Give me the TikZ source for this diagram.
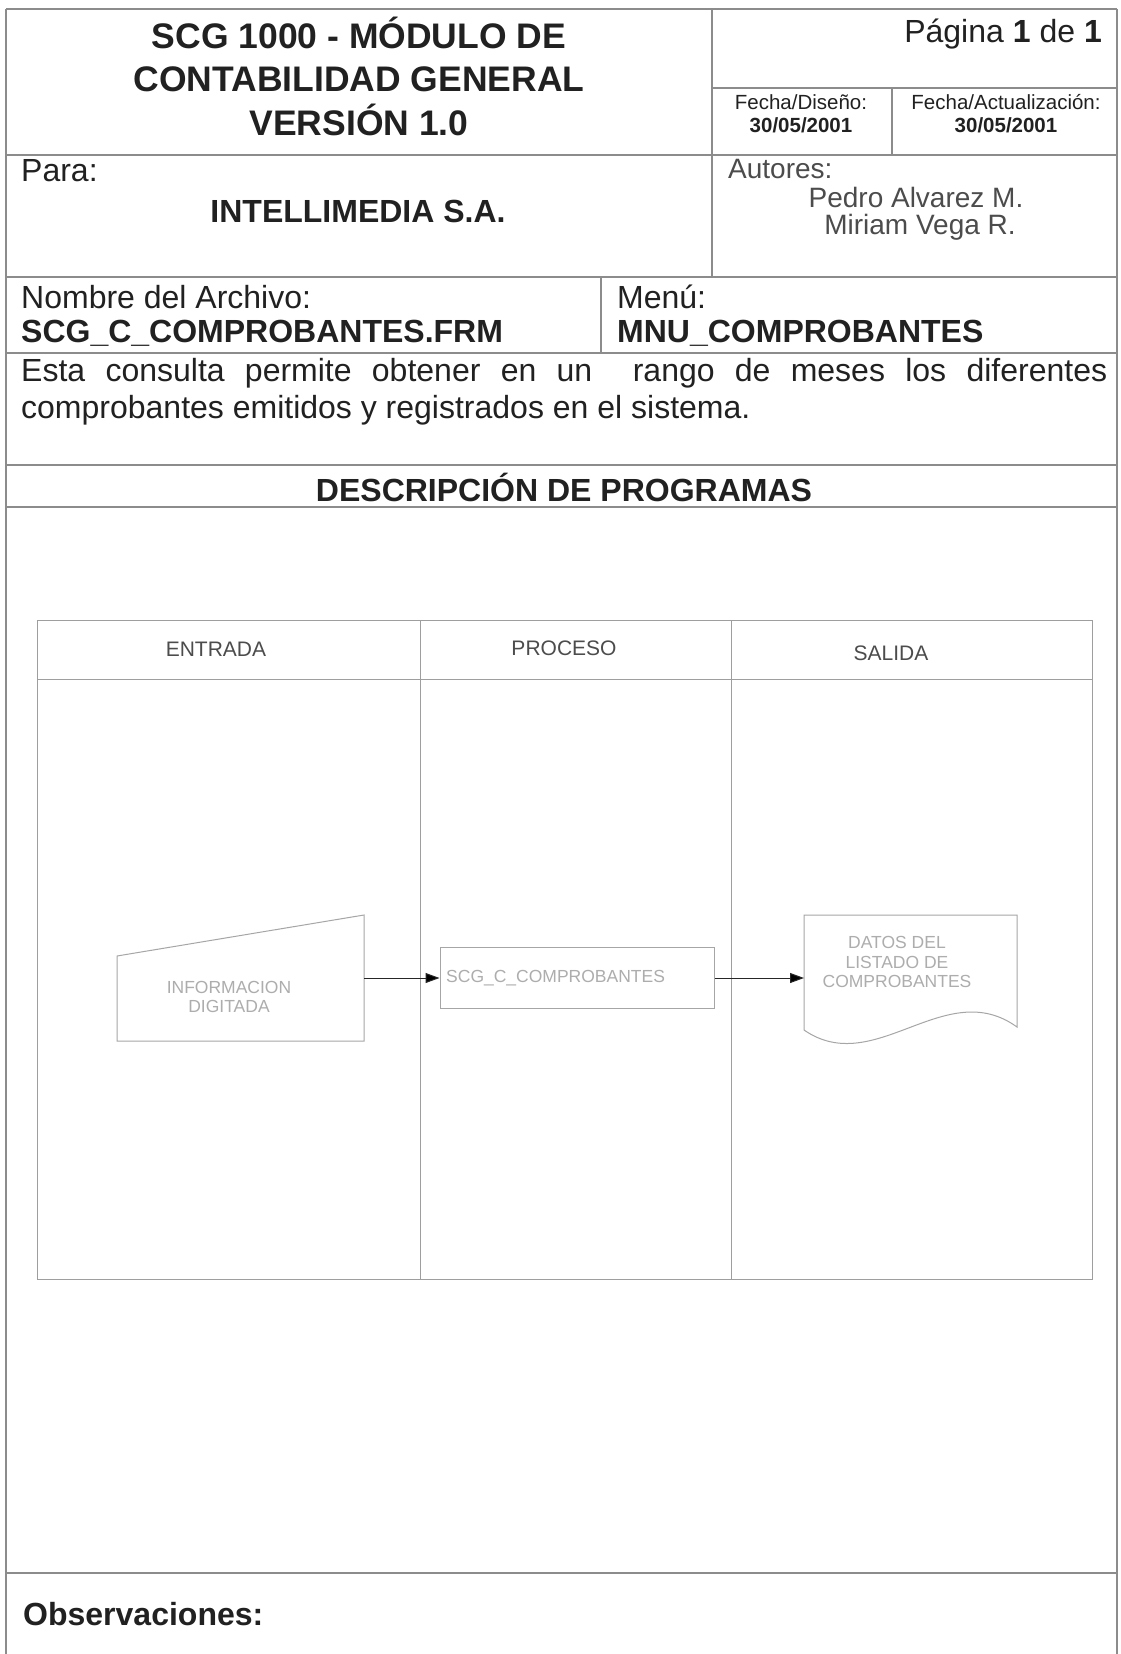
\documentclass[tikz,border=0pt]{standalone}
\usepackage{fontspec}
\setmainfont{Liberation Sans}
\usetikzlibrary{arrows.meta}
\definecolor{frame}{gray}{0.55}
\definecolor{lane}{gray}{0.62}
\definecolor{ink}{gray}{0.13}
\definecolor{soft}{gray}{0.3}
\definecolor{faint}{gray}{0.68}
\newcommand{\fsz}[2]{\fontsize{#1pt}{#2pt}\selectfont}
\begin{document}
\begin{tikzpicture}[x=1pt,y=-1pt,
  frameline/.style={draw=frame, line width=1.3pt},
  laneline/.style={draw=lane, line width=1pt},
  shapeline/.style={draw=gray!70, line width=1pt},
  conn/.style={draw=gray!30!black, line width=1pt, -{Triangle[length=14pt,width=10pt,fill=black]}},
  txt/.style={inner sep=0, text=ink},
  body/.style={txt, font=\fsz{32}{38}},
  bodyb/.style={txt, font=\bfseries\fsz{32}{38}},
  small/.style={txt, font=\fsz{20.5}{24}},
  smallb/.style={txt, font=\bfseries\fsz{20.5}{24}},
  author/.style={txt, text=soft, font=\fsz{28}{33}},
  lanehead/.style={inner sep=0, text=soft, font=\fsz{21}{25}},
  shapetext/.style={inner sep=0, text=faint, font=\fsz{17.5}{19.5}, align=center},
  anchorbox/.style={inner sep=0, outer sep=0}]
\useasboundingbox (0,0) rectangle (1121,1654);
\fill[white] (0,0) rectangle (1121,1654);

% frame
\draw[frameline] (6,9) -- (1117,9);
\draw[frameline] (6,9) -- (6,1654);
\draw[frameline] (1117,9) -- (1117,1654);
\draw[frameline] (712,9) -- (712,277);
\draw[frameline] (712,88) -- (1117,88);
\draw[frameline] (892,88) -- (892,155);
\draw[frameline] (6,155) -- (1117,155);
\draw[frameline] (6,277) -- (1117,277);
\draw[frameline] (601,277) -- (601,353);
\draw[frameline] (6,353) -- (1117,353);
\draw[frameline] (6,465) -- (1117,465);
\draw[frameline] (6,507) -- (1117,507);
\draw[frameline] (6,1573) -- (1117,1573);

% header texts
\node[txt, font=\bfseries\fsz{35.5}{43.5}, align=center] (title) at (359,76)
  {SCG 1000 - MÓDULO DE\\CONTABILIDAD GENERAL\\VERSIÓN 1.0};
\node[body, anchor=east] (pag) at (1102,34) {Página \textbf{1} de \textbf{1}};
\node[small] (fd) at (801,102) {Fecha/Diseño:};
\node[smallb] (fdd) at (801,125) {30/05/2001};
\node[small] (fa) at (1006,102) {Fecha/Actualización:};
\node[smallb] (fad) at (1006,125) {30/05/2001};

\node[body, anchor=west] (para) at (21,171) {Para:};
\node[bodyb] (cli) at (358,211) {INTELLIMEDIA S.A.};
\node[author, anchor=west] (aut) at (728,169) {Autores:};
\node[author] (a1) at (916,197) {Pedro Alvarez M.};
\node[author] (a2) at (920,227) {Miriam Vega R.};

\node[body, anchor=west] (nom) at (21,297) {Nombre del Archivo:};
\node[bodyb, anchor=west] (nomv) at (21,333) {SCG\_C\_COMPROBANTES.FRM};
\node[body, anchor=west] (men) at (617,297) {Menú:};
\node[bodyb, anchor=west] (menv) at (617,333) {MNU\_COMPROBANTES};

\node[body, anchor=west] (d1) at (21,373)
  {\makebox[1086pt][s]{Esta consulta permite obtener en un\ \ rango de meses los diferentes}};
\node[body, anchor=west] (d2) at (21,410) {comprobantes emitidos y registrados en el sistema.};

\node[bodyb] (dp) at (564,487) {DESCRIPCIÓN DE PROGRAMAS};

% swimlanes
\draw[laneline] (37,620) rectangle (1092,1279);
\draw[laneline] (37,679) -- (1092,679);
\draw[laneline] (420,620) -- (420,1279);
\draw[laneline] (731,620) -- (731,1279);
\node[lanehead] (hin) at (216,649) {ENTRADA};
\node[lanehead] (hpr) at (564,648) {PROCESO};
\node[lanehead] (hout) at (891,653) {SALIDA};

% manual input
\node[anchorbox, minimum width=247pt, minimum height=126pt] (inp) at (240.5,978) {};
\draw[shapeline] (inp.north east) -- (inp.south east) -- (inp.south west)
  -- ([yshift=-41pt]inp.north west) -- cycle;
\node[shapetext] (inpt) at (229,997) {INFORMACION\\DIGITADA};

% process
\node[shapeline, rectangle, inner sep=0, minimum width=274pt, minimum height=61pt] (proc) at (577,978) {};
\node[shapetext, anchor=west] (proct) at (446,978) {SCG\_C\_COMPROBANTES};

% document
\node[anchorbox, minimum width=213pt, minimum height=126pt] (doc) at (910.5,978) {};
\draw[shapeline] (doc.north west) -- (doc.north east) -- (1017,1027)
  .. controls (945,975) and (875,1079) .. (804,1030) -- cycle;
\node[shapetext] (doct) at (897,962) {DATOS DEL\\LISTADO DE\\COMPROBANTES};

% connectors
\draw[conn] (inp.east) -- (proc.west);
\draw[conn] (proc.east) -- (doc.west);

% observaciones
\node[bodyb, anchor=west] (obs) at (23,1614) {Observaciones:};
\end{tikzpicture}
\end{document}
